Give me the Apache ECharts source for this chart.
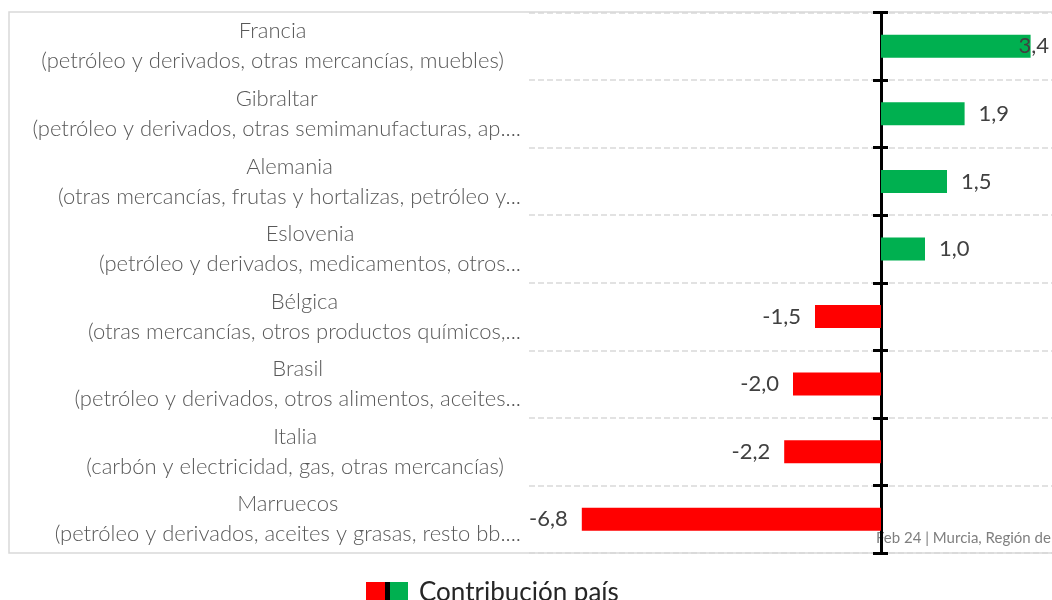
<!DOCTYPE html>
<html>
<head>
<meta charset="utf-8">
<script src="https://cdn.jsdelivr.net/npm/echarts@6/dist/echarts.min.js"></script>
<style>
  html, body { margin: 0; padding: 0; background: #fff; overflow: hidden; }
  #main { width: 1052px; height: 600px; }
</style>
</head>
<body>
<div id="main"></div>
<script>
// países y sus principales productos (texto tal como aparece, truncado)
var countries = ['Francia', 'Gibraltar', 'Alemania', 'Eslovenia', 'Bélgica', 'Brasil', 'Italia', 'Marruecos'];
var products = [
  '(petróleo y derivados, otras mercancías, muebles)',
  '(petróleo y derivados, otras semimanufacturas, ap....',
  '(otras mercancías, frutas y hortalizas, petróleo y...',
  '(petróleo y derivados, medicamentos, otros...',
  '(otras mercancías, otros productos químicos,...',
  '(petróleo y derivados, otros alimentos, aceites...',
  '(carbón y electricidad, gas, otras mercancías)',
  '(petróleo y derivados, aceites y grasas, resto bb....'
];
var contribution = [3.4, 1.9, 1.5, 1.0, -1.5, -2.0, -2.2, -6.8];
var seriesName = 'Contribución país';
var footnote = 'Feb 24 | Murcia, Región de';

var GREEN = '#00b050';
var RED = '#ff0000';

var myChart = echarts.init(document.getElementById('main'));

// etiquetas de categoría: los textos completos van centrados, los truncados pegados al eje
var catData = countries.map(function (c, i) {
  var item = { value: c };
  if (products[i].indexOf('...') < 0) {
    item.textStyle = { padding: [0, 17, 0, 0] };
  }
  return item;
});

var barData = contribution.map(function (v, i) {
  var d = {
    value: v,
    itemStyle: { color: v >= 0 ? GREEN : RED },
    label: { position: v >= 0 ? 'right' : 'left' }
  };
  if (v > 3) d.label.distance = -12; // no cabe fuera, como en el original
  return d;
});

var labelFont = { fontFamily: 'Lato', fontWeight: 300, fontSize: 22, color: '#595959', lineHeight: 30 };
var gridBox = { left: 529, right: -5, top: 12.5, bottom: 47, outerBoundsMode: 'none', containLabel: false };
var hiddenX = {
  type: 'value', min: -8, max: 4,
  axisLine: { show: false }, axisTick: { show: false },
  axisLabel: { show: false }, splitLine: { show: false }
};

myChart.setOption({
  animation: false,
  // segundo grid superpuesto solo para que las marcas crucen el eje
  grid: [gridBox, Object.assign({}, gridBox)],
  legend: {
    data: [{
      name: seriesName,
      icon: 'rect',
      itemStyle: {
        color: new echarts.graphic.LinearGradient(0, 0, 1, 0, [
          { offset: 0, color: RED }, { offset: 0.45, color: RED },
          { offset: 0.45, color: '#000' }, { offset: 0.56, color: '#000' },
          { offset: 0.56, color: GREEN }, { offset: 1, color: GREEN }
        ])
      }
    }],
    left: 366,
    top: 580,
    padding: 0,
    itemWidth: 42,
    itemHeight: 22,
    itemGap: 11,
    textStyle: { fontFamily: 'Lato', fontSize: 26, color: '#262626', padding: [0, 0, 0, 6] }
  },
  xAxis: [
    Object.assign({ gridIndex: 0 }, hiddenX),
    Object.assign({ gridIndex: 1 }, hiddenX)
  ],
  yAxis: [
    {
      type: 'category',
      gridIndex: 0,
      data: catData,
      inverse: true,
      position: 'left',
      axisLine: { show: true, onZero: true, lineStyle: { color: '#000', width: 3 } },
      axisTick: { show: true, length: 8, lineStyle: { color: '#000', width: 3 } },
      axisLabel: {
        margin: 8,
        align: 'right',
        formatter: function (val, idx) {
          return '{n|' + val + '}\n{d|' + products[idx] + '}';
        },
        rich: {
          n: Object.assign({ align: 'center' }, labelFont),
          d: Object.assign({ align: 'center' }, labelFont)
        }
      },
      splitLine: { show: true, lineStyle: { color: '#d9d9d9', type: 'dashed', width: 1.5 } }
    },
    {
      type: 'category',
      gridIndex: 1,
      data: countries,
      inverse: true,
      position: 'left',
      axisLine: { show: true, onZero: true, lineStyle: { color: '#000', width: 3 } },
      axisTick: { show: true, inside: true, length: 7, lineStyle: { color: '#000', width: 3 } },
      axisLabel: { show: false },
      splitLine: { show: false }
    }
  ],
  graphic: [
    {
      type: 'rect',
      z: -10,
      shape: { x: 9, y: 12, width: 1100, height: 541 },
      style: { fill: 'none', stroke: '#d9d9d9', lineWidth: 1.5 }
    },
    {
      type: 'text',
      z: -10,
      left: 876,
      top: 531,
      style: { text: footnote, fontFamily: 'Lato', fontSize: 15, fill: '#7f7f7f' }
    }
  ],
  series: [{
    name: seriesName,
    type: 'bar',
    xAxisIndex: 0,
    yAxisIndex: 0,
    barWidth: 23,
    data: barData,
    label: {
      show: true,
      distance: 14,
      fontFamily: 'Lato',
      fontSize: 22,
      color: '#404040',
      formatter: function (p) {
        return p.value.toFixed(1).replace('.', ',');
      }
    }
  }]
});
</script>
</body>
</html>
